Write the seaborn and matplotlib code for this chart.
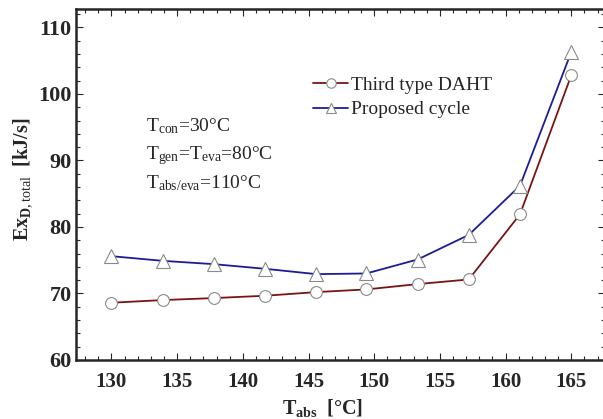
import matplotlib
matplotlib.use("Agg")
import matplotlib.pyplot as plt
import seaborn as sns
from matplotlib.ticker import MultipleLocator

# data
t_abs = [130, 133.9, 137.8, 141.7, 145.6, 149.4, 153.3, 157.2, 161.1, 165]
third_type_daht = [68.6, 69.0, 69.3, 69.65, 70.2, 70.6, 71.4, 72.1, 81.9, 102.8]
proposed_cycle = [75.6, 74.9, 74.4, 73.7, 72.9, 73.0, 75.1, 78.8, 86.2, 106.3]
conditions = [r"T$_{\rm con}$=30°C",
              r"T$_{\rm gen}$=T$_{\rm eva}$=80°C",
              r"T$_{\rm abs/eva}$=110°C"]

sns.set_style("ticks")
plt.rcParams["font.family"] = ["Liberation Serif", "DejaVu Serif"]
plt.rcParams["mathtext.fontset"] = "custom"
plt.rcParams["mathtext.rm"] = "Liberation Serif"
plt.rcParams["mathtext.it"] = "Liberation Serif:italic"
plt.rcParams["mathtext.bf"] = "Liberation Serif:bold"

fig = plt.figure(figsize=(6.03, 4.19), dpi=100)
ax = fig.add_axes([0.126, 0.141, 0.878, 0.838])

red = "#7a1414"
blue = "#1c1c96"
sns.lineplot(x=t_abs, y=third_type_daht, ax=ax, color=red, lw=1.3,
             marker="o", markersize=8.5, markerfacecolor="white",
             markeredgecolor="#8a8a8a", markeredgewidth=0.8,
             label="Third type DAHT")
sns.lineplot(x=t_abs, y=proposed_cycle, ax=ax, color=blue, lw=1.3,
             marker="^", markersize=9.5, markerfacecolor="white",
             markeredgecolor="#8a8a8a", markeredgewidth=0.8,
             label="Proposed cycle")

ax.set_xlim(127.3, 167.6)
ax.set_ylim(60, 112.8)
ax.xaxis.set_major_locator(MultipleLocator(5))
ax.xaxis.set_minor_locator(MultipleLocator(1))
ax.yaxis.set_major_locator(MultipleLocator(10))
ax.yaxis.set_minor_locator(MultipleLocator(2))
ax.tick_params(which="both", direction="in", top=True, right=True, width=0.8)
ax.tick_params(which="major", length=5)
ax.tick_params(which="minor", length=3)
ax.tick_params(axis="x", which="major", labelsize=15, pad=9)
ax.tick_params(axis="y", which="major", labelsize=16, pad=3)
for lab in ax.get_xticklabels() + ax.get_yticklabels():
    lab.set_fontweight("bold")
for sp in ax.spines.values():
    sp.set_linewidth(1.8)

ax.set_xlabel(r"$\mathbf{T}_{\mathbf{abs}}$  [°C]", fontsize=14.5,
              fontweight="bold")
ax.xaxis.set_label_coords(0.465, -0.105)
ax.set_ylabel(r"$\mathbf{Ex}_{\mathbf{D},\mathrm{total}}$  [kJ/s]",
              fontsize=14.5, fontweight="bold")
ax.yaxis.set_label_coords(-0.079, 0.515)

ax.legend(loc="upper left", bbox_to_anchor=(0.43, 0.835), frameon=False,
          fontsize=14, labelspacing=0.35, handlelength=1.8,
          handletextpad=0.15, borderpad=0, markerscale=0.8)

for i, txt in enumerate(conditions):
    fig.text(0.242, 1 - (131 + 28.5 * i) / 419, txt, fontsize=14,
             va="baseline")

fig.savefig("out.png", dpi=100)
